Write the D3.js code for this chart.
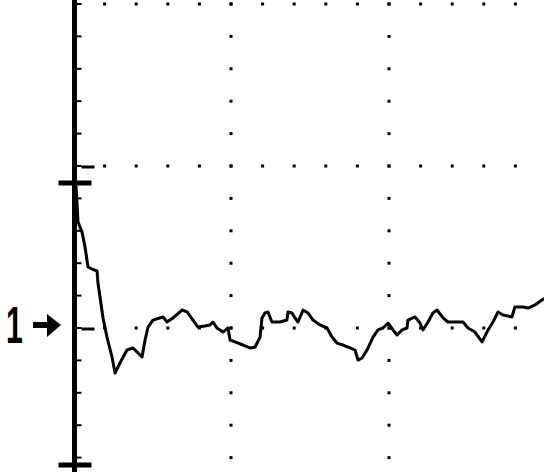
<!DOCTYPE html>
<html>
<head>
<meta charset="utf-8">
<script src="https://cdn.jsdelivr.net/npm/d3@7"></script>
<style>
  body { margin: 0; background: #fff; }
  svg { display: block; }
</style>
</head>
<body>
<div id="scope"></div>
<script>

// time in "units" (10 per major division), response normalised so that 1 = final level
var time = [0.19, 0.32, 0.57, 0.76, 0.95, 1.20, 1.52, 1.58, 1.71, 1.90,
  2.15, 2.47, 2.66, 2.97, 3.42, 3.80, 4.05, 4.37, 4.56, 4.75,
  5.06, 5.70, 5.95, 6.33, 6.90, 7.22, 7.59, 7.91, 8.35, 8.67,
  8.86, 9.11, 9.49, 9.81, 9.94, 10.25, 10.76, 11.20, 11.52, 11.84,
  11.96, 12.15, 12.34, 12.59, 13.10, 13.54, 13.61, 13.86, 14.05, 14.24,
  14.56, 14.87, 15.19, 15.63, 16.08, 16.39, 16.71, 17.09, 17.53, 17.85,
  18.04, 18.29, 18.61, 18.99, 19.30, 19.62, 19.94, 20.25, 20.51, 20.82,
  21.14, 21.20, 21.65, 21.96, 22.15, 22.47, 22.78, 23.04, 23.42, 23.73,
  24.68, 25.00, 25.44, 25.89, 26.27, 26.58, 26.90, 27.22, 27.78, 27.97,
  28.48, 28.80, 29.24, 29.68, 29.94];

var response = [1.877, 1.654, 1.593, 1.500, 1.377, 1.364, 1.352, 1.278, 1.191, 1.062,
  0.944, 0.821, 0.722, 0.784, 0.864, 0.877, 0.852, 0.821, 0.926, 1.006,
  1.049, 1.068, 1.037, 1.062, 1.111, 1.099, 1.049, 1.006, 1.012, 1.019,
  1.037, 1.000, 0.975, 1.000, 0.926, 0.914, 0.895, 0.877, 0.883, 0.944,
  1.062, 1.093, 1.099, 1.037, 1.037, 1.049, 1.099, 1.093, 1.062, 1.037,
  1.111, 1.093, 1.049, 1.019, 1.000, 0.944, 0.907, 0.895, 0.877, 0.864,
  0.802, 0.815, 0.864, 0.944, 0.988, 1.000, 1.031, 0.988, 0.957, 0.988,
  1.000, 1.049, 1.068, 1.031, 0.988, 1.037, 1.093, 1.111, 1.062, 1.037,
  1.037, 1.000, 0.975, 0.914, 0.988, 1.037, 1.099, 1.080, 1.068, 1.130,
  1.130, 1.123, 1.142, 1.173, 1.185];

// graticule
var majorTimes = [10, 20];
var majorLevels = [1, 2, 3];
var minorTimeStep = 2;
var minorLevelStep = 0.2;

// cursor bars (peak and floor) and the reference label
var markerLevels = [1.895, 0.155];
var refLevel = 1;
var refLabel = "1";

var svgWidth = 544;
var svgHeight = 472;

var svg = d3.select("#scope")
  .append("svg")
  .attr("width", svgWidth)
  .attr("height", svgHeight)
  .style("background", "#fff");

var xScale = d3.scaleLinear()
  .domain([0, 30])
  .range([73, 547]);

var yScale = d3.scaleLinear()
  .domain([0, 3])
  .range([490, 4]);

var axisX = xScale(0) + 1.5;

// dotted graticule - vertical lines
var levelDots = d3.range(minorLevelStep, 3.001, minorLevelStep);
majorTimes.forEach(function(t) {
  svg.append("g")
    .selectAll("rect")
    .data(levelDots)
    .enter()
    .append("rect")
    .attr("x", xScale(t) - 1.5)
    .attr("y", d => yScale(d) - 1.5)
    .attr("width", 3)
    .attr("height", 3)
    .attr("fill", "#000");
});

// dotted graticule - horizontal lines
var timeDots = d3.range(minorTimeStep, 30.001, minorTimeStep);
majorLevels.forEach(function(v) {
  svg.append("g")
    .selectAll("rect")
    .data(timeDots)
    .enter()
    .append("rect")
    .attr("x", d => xScale(d) - 1.5)
    .attr("y", yScale(v) - 1.5)
    .attr("width", 3)
    .attr("height", 3)
    .attr("fill", "#000");
});

// thick vertical axis
svg.append("line")
  .attr("x1", axisX)
  .attr("x2", axisX)
  .attr("y1", 0)
  .attr("y2", svgHeight)
  .attr("stroke", "#000")
  .attr("stroke-width", 5);

// minor ticks on the axis
svg.append("g")
  .selectAll("line")
  .data(levelDots)
  .enter()
  .append("line")
  .attr("x1", axisX + 2)
  .attr("x2", axisX + 7)
  .attr("y1", d => yScale(d))
  .attr("y2", d => yScale(d))
  .attr("stroke", "#000")
  .attr("stroke-width", 2);

// dashes at the major levels
svg.append("g")
  .selectAll("line")
  .data([1, 2])
  .enter()
  .append("line")
  .attr("x1", axisX + 7)
  .attr("x2", axisX + 20)
  .attr("y1", d => yScale(d) + 1)
  .attr("y2", d => yScale(d) + 1)
  .attr("stroke", "#000")
  .attr("stroke-width", 3);

// cursor bars
svg.append("g")
  .selectAll("line")
  .data(markerLevels)
  .enter()
  .append("line")
  .attr("x1", axisX - 16)
  .attr("x2", axisX + 17)
  .attr("y1", d => yScale(d))
  .attr("y2", d => yScale(d))
  .attr("stroke", "#000")
  .attr("stroke-width", 5);

// the trace
var line = d3.line()
  .x((d, i) => xScale(time[i]))
  .y(d => yScale(d))
  .curve(d3.curveLinear);

svg.append("path")
  .datum(response)
  .attr("d", line)
  .attr("fill", "none")
  .attr("stroke", "#000")
  .attr("stroke-width", 3)
  .attr("stroke-linejoin", "round");

// reference label "1 ->" (narrow, tall digit)
var yRef = yScale(refLevel);

svg.append("text")
  .attr("transform", `translate(6, ${yRef + 15}) scale(0.58, 1)`)
  .attr("font-family", "Liberation Sans, Arial, sans-serif")
  .attr("font-weight", "bold")
  .attr("font-size", 52)
  .attr("fill", "#000")
  .text(refLabel);

svg.append("line")
  .attr("x1", 33)
  .attr("x2", 50)
  .attr("y1", yRef - 3)
  .attr("y2", yRef - 3)
  .attr("stroke", "#000")
  .attr("stroke-width", 6);

svg.append("path")
  .attr("d", d3.line()([[47, yRef - 14], [61, yRef - 3], [47, yRef + 9]]) + "Z")
  .attr("fill", "#000");

</script>
</body>
</html>
